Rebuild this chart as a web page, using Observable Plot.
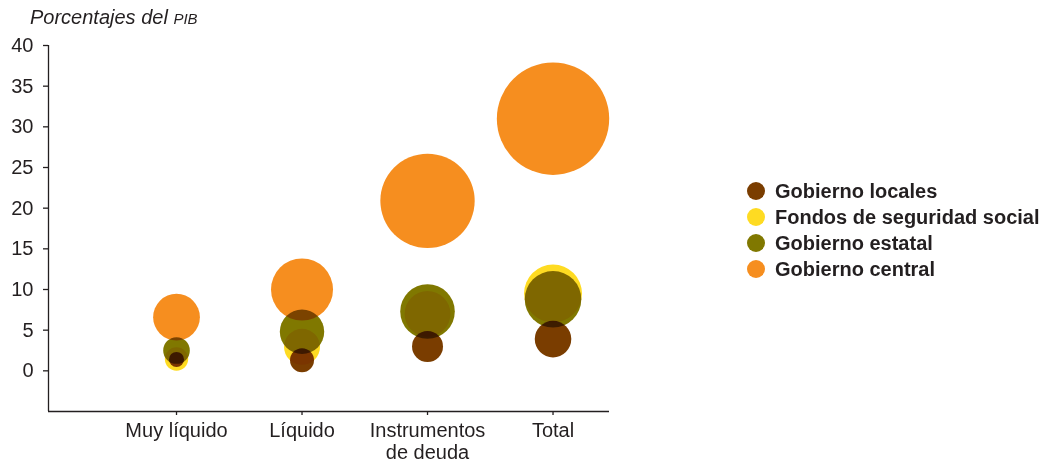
<!DOCTYPE html>
<html>
<head>
<meta charset="utf-8">
<script src="https://cdn.jsdelivr.net/npm/d3@7"></script>
<script src="https://cdn.jsdelivr.net/npm/@observablehq/plot@0.6"></script>
<style>
  html, body { margin: 0; padding: 0; background: #fff; }
  #wrap { position: relative; width: 1047px; height: 463px; font-family: "Liberation Sans", Arial, Helvetica, sans-serif; color: #231f20; }
  #title { position: absolute; left: 30px; top: 6px; font-size: 20px; font-style: italic; white-space: nowrap; }
  #title .small { font-size: 15px; }
  #legend { position: absolute; left: 747px; top: 178px; }
  .item { display: flex; align-items: center; height: 26px; font-weight: bold; font-size: 20px; white-space: nowrap; }
  .sw { width: 18px; height: 18px; border-radius: 50%; margin-right: 10px; flex: none; }
</style>
</head>
<body>
<div id="wrap">
  <div id="title">Porcentajes del <span class="small">PIB</span></div>
  <div id="legend"></div>
</div>
<script>
const categories = ["Muy líquido", "Líquido", "Instrumentos\nde deuda", "Total"];
const series = ["Gobierno locales", "Fondos de seguridad social", "Gobierno estatal", "Gobierno central"];
const colors = ["#7a3d00", "#fedb22", "#807800", "#f68e1f"];
const yTicks = [0, 5, 10, 15, 20, 25, 30, 35, 40];

// y position (porcentajes del PIB)
const locales   = [1.4, 1.3, 3.0, 3.9];
const segSocial = [1.45, 2.95, 7.0, 9.5];
const estatal   = [2.5, 4.8, 7.3, 8.8];
const central   = [6.6, 10.0, 20.9, 31.0];

// bubble size
const sizeLocales   = [0.56, 1.42, 2.37, 3.3];
const sizeSegSocial = [1.35, 3.2, 5.2, 8.3];
const sizeEstatal   = [1.75, 4.87, 7.36, 7.9];
const sizeCentral   = [5.4, 9.5, 22.0, 31.2];

const valueArrays = [locales, segSocial, estatal, central];
const sizeArrays = [sizeLocales, sizeSegSocial, sizeEstatal, sizeCentral];

const data = [];
// draw central first, locales last
for (let s = series.length - 1; s >= 0; s--) {
  categories.forEach((c, i) => {
    data.push({i, cat: c, series: series[s], v: valueArrays[s][i], size: sizeArrays[s][i]});
  });
}

const xDomain = [-1.02, 3.45];
const yDomain = [-5, 40];

const chart = Plot.plot({
  width: 1047,
  height: 463,
  marginLeft: 48,
  marginRight: 438,
  marginTop: 45,
  marginBottom: 52,
  style: {fontFamily: "'Liberation Sans', Arial, Helvetica, sans-serif", fontSize: "20px", color: "#231f20", background: "transparent"},
  x: {type: "linear", domain: xDomain, label: null},
  y: {domain: yDomain, label: null},
  r: {type: "sqrt", domain: [0, 32], range: [0, 56.9]},
  color: {domain: series, range: colors},
  marks: [
    Plot.axisY({ticks: yTicks, label: null, tickSize: 5, tickPadding: 10, fontSize: 20, stroke: "#231f20", strokeWidth: 1.3}),
    Plot.axisX({ticks: [0, 1, 2, 3], label: null, tickFormat: d => categories[d], tickSize: 4, tickPadding: 6, fontSize: 20, lineHeight: 1.1, stroke: "#231f20", strokeWidth: 1.3}),
    Plot.ruleX([xDomain[0]], {stroke: "#231f20", strokeWidth: 1.3}),
    Plot.ruleY([yDomain[0]], {stroke: "#231f20", strokeWidth: 1.3}),
    Plot.dot(data, {x: "i", y: "v", r: "size", fill: "series", fillOpacity: 1, sort: null, mixBlendMode: "multiply"})
  ]
});
const wrap = document.getElementById("wrap");
chart.style.position = "absolute";
chart.style.left = "0";
chart.style.top = "0";
wrap.insertBefore(chart, wrap.firstChild);

const legend = document.getElementById("legend");
series.forEach((s, k) => {
  const item = document.createElement("div");
  item.className = "item";
  const sw = document.createElement("span");
  sw.className = "sw";
  sw.style.background = colors[k];
  const t = document.createElement("span");
  t.textContent = s;
  item.appendChild(sw);
  item.appendChild(t);
  legend.appendChild(item);
});
</script>
</body>
</html>
